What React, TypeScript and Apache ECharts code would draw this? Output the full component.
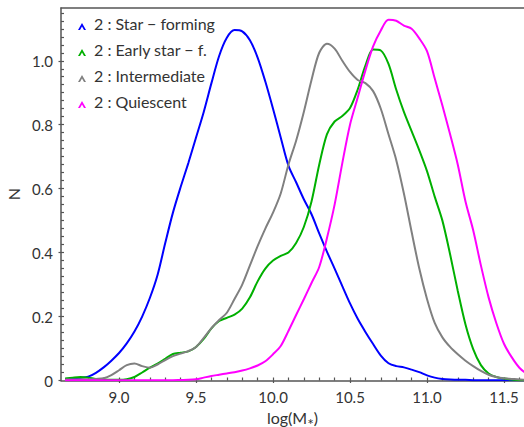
import React, { useEffect, useRef } from "react";
import * as echarts from "echarts";

// Stellar-mass grid (log M*) shared by all four distributions
const logMass = [
  8.65, 8.7, 8.75, 8.8, 8.85, 8.9, 8.95, 9.0, 9.05, 9.1,
  9.15, 9.2, 9.25, 9.3, 9.35, 9.4, 9.45, 9.5, 9.55, 9.6,
  9.65, 9.7, 9.75, 9.8, 9.85, 9.9, 9.95, 10.0, 10.05, 10.1,
  10.15, 10.2, 10.25, 10.3, 10.35, 10.4, 10.45, 10.5, 10.55, 10.6,
  10.65, 10.7, 10.75, 10.8, 10.85, 10.9, 10.95, 11.0, 11.05, 11.1,
  11.15, 11.2, 11.25, 11.3, 11.35, 11.4, 11.45, 11.5, 11.55, 11.6,
  11.65,
];

const starForming = [
  0.005, 0.006, 0.008, 0.012, 0.024, 0.041, 0.062, 0.086, 0.116, 0.153,
  0.2, 0.258, 0.33, 0.43, 0.525, 0.605, 0.68, 0.76, 0.84, 0.93,
  1.015, 1.072, 1.096, 1.092, 1.064, 1.01, 0.935, 0.85, 0.76, 0.672,
  0.62, 0.567, 0.52, 0.46, 0.403, 0.35, 0.295, 0.241, 0.193, 0.152,
  0.114, 0.078, 0.054, 0.045, 0.041, 0.034, 0.026, 0.016, 0.009, 0.005,
  0.003, 0.002, 0.002, 0.001, 0.001, 0.001, 0.001, 0.001, 0.001, 0.001,
  0.001,
];

const earlyStarForming = [
  0.006, 0.009, 0.011, 0.009, 0.005, 0.003, 0.002, 0.002, 0.004, 0.011,
  0.025, 0.04, 0.053, 0.068, 0.083, 0.087, 0.091, 0.105, 0.13, 0.163,
  0.186, 0.196, 0.206, 0.225, 0.26, 0.31, 0.35, 0.375, 0.39, 0.4,
  0.43, 0.48, 0.56, 0.675, 0.77, 0.81, 0.827, 0.852, 0.91, 0.985,
  1.035, 1.032, 0.99, 0.91, 0.84, 0.78, 0.72, 0.655, 0.575, 0.5,
  0.395, 0.28, 0.175, 0.098, 0.048, 0.022, 0.011, 0.006, 0.003, 0.001,
  0.001,
];

const intermediate = [
  0.003, 0.003, 0.004, 0.004, 0.005, 0.007, 0.017, 0.032, 0.048, 0.053,
  0.045, 0.04, 0.05, 0.064, 0.076, 0.084, 0.092, 0.105, 0.133, 0.164,
  0.189, 0.212, 0.255, 0.3, 0.36, 0.42, 0.475, 0.525, 0.585, 0.675,
  0.75, 0.84, 0.94, 1.025, 1.053, 1.038, 1.0, 0.965, 0.94, 0.93,
  0.905, 0.85, 0.77, 0.69, 0.585, 0.465, 0.35, 0.255, 0.18, 0.135,
  0.105, 0.082, 0.062, 0.045, 0.03, 0.018, 0.011, 0.007, 0.005, 0.003,
  0.002,
];

const quiescent = [
  0.001, 0.001, 0.001, 0.001, 0.001, 0.001, 0.001, 0.001, 0.001, 0.001,
  0.001, 0.001, 0.001, 0.001, 0.001, 0.0015, 0.002, 0.004, 0.009, 0.014,
  0.018, 0.022, 0.026, 0.031, 0.038, 0.047, 0.06, 0.082, 0.108, 0.155,
  0.205, 0.254, 0.305, 0.355, 0.445, 0.55, 0.68, 0.8, 0.885, 0.97,
  1.045, 1.095, 1.128, 1.125, 1.11, 1.1, 1.07, 1.03, 0.945, 0.86,
  0.77, 0.675, 0.56, 0.47, 0.36, 0.26, 0.18, 0.115, 0.073, 0.04,
  0.02,
];

const seriesNames = [
  "2 : Star − forming",
  "2 : Early star − f.",
  "2 : Intermediate",
  "2 : Quiescent",
];
const seriesValues = [starForming, earlyStarForming, intermediate, quiescent];
const seriesColors = ["#0000ff", "#00b000", "#808080", "#ff00ff"];

const xMajorTicks = [9.0, 9.5, 10.0, 10.5, 11.0, 11.5];
const yMajorTicks = [0, 0.2, 0.4, 0.6, 0.8, 1.0];

const X_MIN = 8.623;
const X_MAX = 11.63;
const Y_MIN = 0;
const Y_MAX = 1.165;

// every 0.1 in log M*, every 0.025 in N
const xMinorTicks: number[] = [];
for (let i = 87; i <= 116; i++) xMinorTicks.push(i / 10);
const yMinorTicks: number[] = [];
for (let i = 1; i <= 46; i++) yMinorTicks.push(i / 40);

const FONT = "Lato";
const TEXT_COLOR = "#333";
const AXIS_COLOR = "#555";

// caret-shaped legend marker; the leading move-to keeps blank room above it
const CARET = "path://M4,0 M0,14 L4,7 L8,14 L6,14 L4,10.5 L2,14 Z";

export default function App() {
  const ref = useRef<HTMLDivElement>(null);

  useEffect(() => {
    if (!ref.current) return;
    const chart = echarts.init(ref.current, undefined, { renderer: "svg" });

    const axisLine = { show: true, onZero: false, lineStyle: { color: AXIS_COLOR, width: 1.5 } };

    chart.setOption({
      animation: false,
      backgroundColor: "#fff",
      textStyle: { fontFamily: FONT },
      grid: {
        left: 61,
        right: 0,
        top: 8,
        bottom: 46.5,
        containLabel: false,
        outerBoundsMode: "none",
      },
      legend: {
        orient: "vertical",
        left: 73,
        top: 10,
        itemGap: 10,
        itemWidth: 14,
        itemHeight: 14,
        data: seriesNames.map((name) => ({ name, icon: CARET })),
        textStyle: { fontFamily: FONT, fontSize: 16, color: TEXT_COLOR },
        selectedMode: false,
      },
      xAxis: [
        {
          type: "value",
          position: "bottom",
          min: X_MIN,
          max: X_MAX,
          axisLine,
          axisTick: {
            show: true,
            inside: false,
            length: 2.5,
            customValues: xMajorTicks,
            lineStyle: { color: AXIS_COLOR, width: 1.2 },
          },
          axisLabel: {
            customValues: xMajorTicks,
            formatter: (v: number) => v.toFixed(1),
            fontFamily: FONT,
            fontSize: 15,
            color: TEXT_COLOR,
            margin: 9,
          },
          splitLine: { show: false },
          name: "{a|log(M}{s|∗}{a|)}",
          nameLocation: "middle",
          nameGap: 24,
          nameTextStyle: {
            rich: {
              a: { fontFamily: FONT, fontSize: 16, color: TEXT_COLOR, lineHeight: 18, verticalAlign: "bottom" },
              s: { fontFamily: "DejaVu Sans", fontSize: 8, color: TEXT_COLOR, lineHeight: 18, verticalAlign: "bottom" },
            },
          },
        },
        {
          type: "value",
          position: "bottom",
          min: X_MIN,
          max: X_MAX,
          axisLine: { show: false, onZero: false },
          axisTick: {
            show: true,
            inside: true,
            length: 3,
            customValues: xMinorTicks,
            lineStyle: { color: AXIS_COLOR, width: 1.2 },
          },
          axisLabel: { show: false, customValues: xMinorTicks },
          splitLine: { show: false },
        },
        {
          type: "value",
          position: "top",
          min: X_MIN,
          max: X_MAX,
          axisLine,
          axisTick: { show: false },
          axisLabel: { show: false },
          splitLine: { show: false },
        },
      ],
      yAxis: [
        {
          type: "value",
          position: "left",
          min: Y_MIN,
          max: Y_MAX,
          axisLine,
          axisTick: {
            show: true,
            inside: false,
            length: 2.5,
            customValues: yMajorTicks,
            lineStyle: { color: AXIS_COLOR, width: 1.2 },
          },
          axisLabel: {
            customValues: yMajorTicks,
            formatter: (v: number) => (v === 0 ? "0" : v.toFixed(1)),
            fontFamily: FONT,
            fontSize: 15,
            color: TEXT_COLOR,
            margin: 8,
            verticalAlignMinLabel: "middle",
          },
          splitLine: { show: false },
          name: "N",
          nameLocation: "middle",
          nameGap: 39,
          nameTextStyle: { fontFamily: FONT, fontSize: 16, color: TEXT_COLOR },
        },
        {
          type: "value",
          position: "left",
          min: Y_MIN,
          max: Y_MAX,
          axisLine: { show: false, onZero: false },
          axisTick: {
            show: true,
            inside: true,
            length: 3,
            customValues: yMinorTicks,
            lineStyle: { color: AXIS_COLOR, width: 1.2 },
          },
          axisLabel: { show: false, customValues: yMinorTicks },
          splitLine: { show: false },
        },
      ],
      series: seriesNames.map((name, i) => ({
        type: "line",
        name,
        xAxisIndex: 0,
        yAxisIndex: 0,
        data: logMass.map((x, j) => [x, seriesValues[i][j]]),
        showSymbol: false,
        symbol: "none",
        smooth: 0.3,
        color: seriesColors[i],
        lineStyle: { color: seriesColors[i], width: 2 },
        itemStyle: { color: seriesColors[i] },
        clip: true,
      })),
    });

    return () => chart.dispose();
  }, []);

  return (
    <div
      ref={ref}
      style={{ position: "fixed", left: 0, top: 0, width: 524, height: 427, background: "#fff" }}
    />
  );
}
